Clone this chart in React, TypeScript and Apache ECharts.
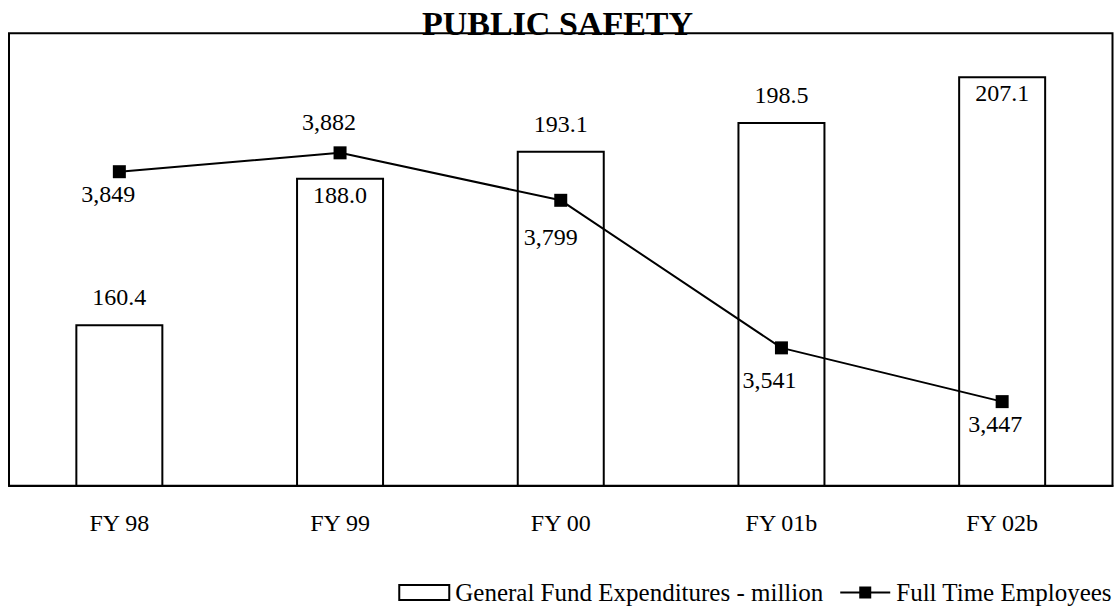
import React, { useEffect, useRef } from "react";
import * as echarts from "echarts";

const categories = ["FY 98", "FY 99", "FY 00", "FY 01b", "FY 02b"];
const expenditures = [160.4, 188.0, 193.1, 198.5, 207.1];
const employees = [3849, 3882, 3799, 3541, 3447];

const FONT = '"Liberation Serif", "Times New Roman", serif';

export default function App() {
  const ref = useRef<HTMLDivElement>(null);
  useEffect(() => {
    if (!ref.current) return;
    const chart = echarts.init(ref.current, null, { renderer: "svg" });

    const barInside = [false, true, false, false, true];
    const empOffsets: [number, number][] = [
      [-11, 22],
      [-11, -31],
      [-10, 37],
      [-12, 32],
      [-7, 22],
    ];

    chart.setOption({
      animation: false,
      backgroundColor: "#fff",
      textStyle: { fontFamily: FONT, color: "#000" },
      title: {
        text: "PUBLIC SAFETY",
        left: "center",
        top: 1,
        z: 10,
        textStyle: { fontFamily: FONT, fontSize: 34, fontWeight: "bold", color: "#000" },
      },
      legend: {
        right: 3,
        top: 580,
        padding: 0,
        itemWidth: 50,
        itemHeight: 15,
        itemGap: 16,
        textStyle: { fontFamily: FONT, fontSize: 25, color: "#000", padding: [0, 0, 0, 1] },
        data: [
          { name: "General Fund Expenditures - million", icon: "rect" },
          { name: "Full Time Employees" },
        ],
      },
      grid: {
        left: 9,
        right: 2.5,
        top: 33.3,
        bottom: 123.3,
        show: true,
        borderColor: "#000",
        borderWidth: 2,
        backgroundColor: "transparent",
      },
      xAxis: {
        type: "category",
        data: categories,
        axisLine: { show: true, lineStyle: { color: "#000", width: 2 } },
        axisTick: { show: false },
        axisLabel: { fontFamily: FONT, fontSize: 24, color: "#000", margin: 25 },
      },
      yAxis: [
        {
          type: "value",
          min: 130,
          max: 215.2,
          show: false,
          splitLine: { show: false },
        },
        {
          type: "value",
          min: 3300,
          max: 4091,
          show: false,
          splitLine: { show: false },
        },
      ],
      series: [
        {
          name: "General Fund Expenditures - million",
          type: "bar",
          yAxisIndex: 0,
          barWidth: 88,
          itemStyle: { color: "#fff", borderColor: "#000", borderWidth: 2 },
          data: expenditures.map((v, i) => ({
            value: v,
            label: barInside[i]
              ? { position: "insideTop", distance: 5 }
              : { position: "top", distance: 15 },
          })),
          label: {
            show: true,
            fontFamily: FONT,
            fontSize: 24,
            color: "#000",
            formatter: (p: any) => Number(p.value).toFixed(1),
          },
          z: 2,
        },
        {
          name: "Full Time Employees",
          type: "line",
          yAxisIndex: 1,
          symbol: "rect",
          symbolSize: 13,
          lineStyle: { color: "#000", width: 2 },
          itemStyle: { color: "#000" },
          data: employees.map((v, i) => ({
            value: v,
            label: { offset: empOffsets[i] },
          })),
          label: {
            show: true,
            position: "inside",
            fontFamily: FONT,
            fontSize: 24,
            color: "#000",
            formatter: (p: any) => Number(p.value).toLocaleString("en-US"),
          },
          z: 5,
        },
      ],
    });
    return () => chart.dispose();
  }, []);
  return (
    <div
      ref={ref}
      style={{ position: "fixed", left: 0, top: 0, width: 1115, height: 609, background: "#fff" }}
    />
  );
}
